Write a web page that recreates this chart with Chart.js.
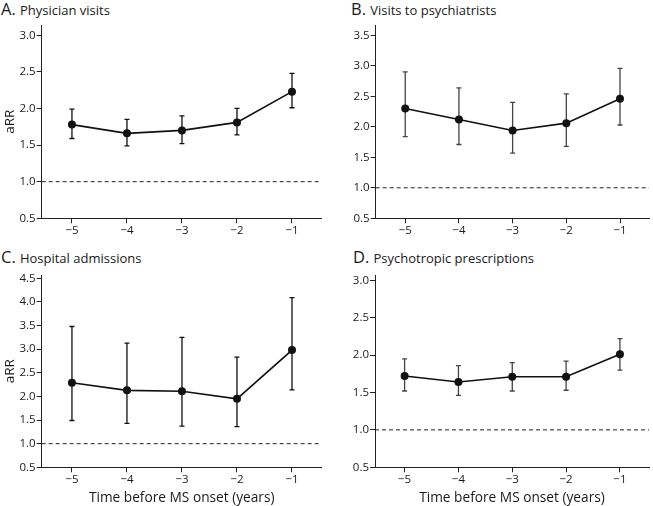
<!DOCTYPE html>
<html>
<head>
<meta charset="utf-8">
<script src="https://cdn.jsdelivr.net/npm/chart.js@4.4.1/dist/chart.umd.min.js"></script>
<style>
  html, body { margin: 0; padding: 0; background: #fff; }
  body { width: 653px; height: 506px; position: relative; overflow: hidden; font-family: 'Open Sans', sans-serif; color: #1a1a1a; }
  canvas { position: absolute; }
  .ttl { position: absolute; white-space: nowrap; line-height: 16px; color: #1a1a1a; }
  .ttl b { font-weight: normal; font-size: 16.5px; }
  .ttl span { font-size: 13px; }
</style>
</head>
<body>
<div class="ttl" style="left:1px;top:1px"><b>A.</b> <span>Physician visits</span></div>
<div class="ttl" style="left:351px;top:1px"><b>B.</b> <span>Visits to psychiatrists</span></div>
<div class="ttl" style="left:1px;top:249px"><b>C.</b> <span>Hospital admissions</span></div>
<div class="ttl" style="left:353px;top:249px"><b>D.</b> <span>Psychotropic prescriptions</span></div>
<canvas id="cA" width="326" height="250" style="left:0;top:0"></canvas>
<canvas id="cB" width="327" height="250" style="left:326px;top:0"></canvas>
<canvas id="cC" width="326" height="256" style="left:0;top:250px"></canvas>
<canvas id="cD" width="327" height="256" style="left:326px;top:250px"></canvas>
<script>
// ---- data ----
const years = [-5, -4, -3, -2, -1];
const xTickLabels = ['\u22125', '\u22124', '\u22123', '\u22122', '\u22121'];

const physicianRR = [1.78, 1.66, 1.70, 1.81, 2.23];
const physicianLo = [1.59, 1.49, 1.52, 1.64, 2.01];
const physicianHi = [1.99, 1.85, 1.90, 2.00, 2.48];

const psychiatristRR = [2.30, 2.12, 1.94, 2.06, 2.46];
const psychiatristLo = [1.84, 1.71, 1.57, 1.68, 2.03];
const psychiatristHi = [2.90, 2.64, 2.40, 2.54, 2.96];

const hospitalRR = [2.29, 2.13, 2.11, 1.95, 2.98];
const hospitalLo = [1.49, 1.43, 1.37, 1.36, 2.14];
const hospitalHi = [3.48, 3.13, 3.25, 2.83, 4.09];

const prescriptionRR = [1.72, 1.64, 1.71, 1.71, 2.01];
const prescriptionLo = [1.52, 1.46, 1.52, 1.53, 1.80];
const prescriptionHi = [1.95, 1.86, 1.90, 1.92, 2.22];

const yTicksA = [0.5, 1.0, 1.5, 2.0, 2.5, 3.0];
const yTicksB = [0.5, 1.0, 1.5, 2.0, 2.5, 3.0, 3.5];
const yTicksC = [0.5, 1.0, 1.5, 2.0, 2.5, 3.0, 3.5, 4.0, 4.5];
const yTicksD = [0.5, 1.0, 1.5, 2.0, 2.5, 3.0];

const refLine = 1.0;

// ---- drawing ----
Chart.defaults.font.family = "'Open Sans', 'Noto Sans', sans-serif";
Chart.defaults.color = '#1a1a1a';

const errorBarPlugin = {
  id: 'errbars',
  beforeDatasetsDraw(chart) {
    const o = chart.options.plugins.errbars;
    const {ctx, chartArea} = chart;
    const xs = chart.scales.x, ys = chart.scales.y;
    ctx.save();
    const yr = ys.getPixelForValue(o.ref);
    ctx.strokeStyle = '#222';
    ctx.lineWidth = 1;
    ctx.setLineDash([4, 3]);
    ctx.beginPath();
    ctx.moveTo(chartArea.left, yr);
    ctx.lineTo(chartArea.right, yr);
    ctx.stroke();
    ctx.setLineDash([]);
    ctx.strokeStyle = o.color;
    ctx.lineWidth = 1.3;
    o.x.forEach((xv, i) => {
      const px = xs.getPixelForValue(xv);
      const pl = ys.getPixelForValue(o.lo[i]);
      const ph = ys.getPixelForValue(o.hi[i]);
      ctx.beginPath();
      ctx.moveTo(px, pl); ctx.lineTo(px, ph);
      ctx.moveTo(px - 2.5, pl); ctx.lineTo(px + 2.5, pl);
      ctx.moveTo(px - 2.5, ph); ctx.lineTo(px + 2.5, ph);
      ctx.stroke();
    });
    ctx.restore();
  }
};

function makePanel(id, rr, lo, hi, yTicks, yMax, yW, xH, padTop, padRight, showYTitle, showXTitle, whisker) {
  new Chart(document.getElementById(id), {
    type: 'line',
    data: {
      datasets: [{
        data: years.map((x, i) => ({x: x, y: rr[i]})),
        borderColor: '#111',
        borderWidth: 1.7,
        backgroundColor: '#111',
        pointRadius: 4,
        pointBackgroundColor: '#111',
        pointBorderWidth: 0,
        tension: 0,
        clip: false
      }]
    },
    plugins: [errorBarPlugin],
    options: {
      responsive: false,
      animation: false,
      devicePixelRatio: 1,
      layout: { padding: { top: padTop, right: padRight, left: 0, bottom: 0 } },
      plugins: {
        legend: { display: false },
        tooltip: { enabled: false },
        errbars: { x: years, lo: lo, hi: hi, ref: refLine, color: whisker }
      },
      scales: {
        x: {
          type: 'linear',
          min: -5.55,
          max: -0.46,
          afterBuildTicks: s => { s.ticks = years.map(v => ({value: v})); },
          afterFit: s => { s.height = xH; },
          ticks: {
            font: { size: 11.5 },
            color: '#1a1a1a',
            padding: 1,
            maxRotation: 0,
            callback: (v) => xTickLabels[years.indexOf(v)]
          },
          grid: { drawOnChartArea: false, drawTicks: true, tickLength: 5, color: '#222', tickWidth: 1 },
          border: { display: true, color: '#222', width: 1 },
          title: {
            display: showXTitle,
            text: 'Time before MS onset (years)',
            font: { size: 13.7 },
            color: '#1a1a1a',
            padding: { top: 0, bottom: 0 }
          }
        },
        y: {
          type: 'linear',
          min: 0.5,
          max: yMax,
          afterBuildTicks: s => { s.ticks = yTicks.map(v => ({value: v})); },
          afterFit: s => { s.width = yW; },
          ticks: {
            font: { size: 11.5 },
            color: '#1a1a1a',
            padding: 1,
            callback: (v) => Number(v).toFixed(1)
          },
          grid: { drawOnChartArea: false, drawTicks: true, tickLength: 5, color: '#222', tickWidth: 1 },
          border: { display: true, color: '#222', width: 1 },
          title: {
            display: showYTitle,
            text: 'aRR',
            font: { size: 13.5 },
            color: '#1a1a1a',
            padding: { top: 2, bottom: 0 }
          }
        }
      }
    }
  });
}

makePanel('cA', physicianRR, physicianLo, physicianHi, yTicksA, 3.14, 41.7, 31.7, 25, 4.3, true, false, '#111');
makePanel('cB', psychiatristRR, psychiatristLo, psychiatristHi, yTicksB, 3.67, 49.7, 31.7, 25, 1.3, false, false, '#444');
makePanel('cC', hospitalRR, hospitalLo, hospitalHi, yTicksC, 4.57, 41.7, 38.7, 25, 4.3, true, true, '#111');
makePanel('cD', prescriptionRR, prescriptionLo, prescriptionHi, yTicksD, 3.07, 49, 38.7, 25, 1.3, false, true, '#444');
</script>
</body>
</html>
